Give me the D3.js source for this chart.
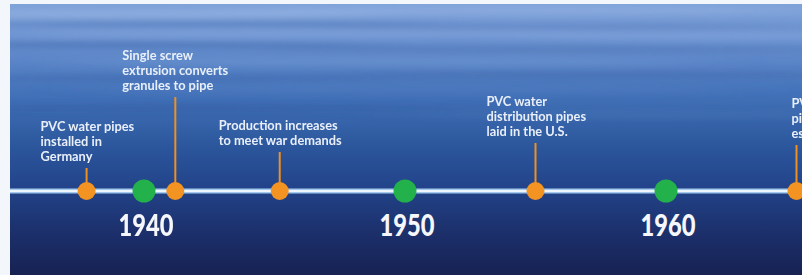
<!DOCTYPE html>
<html>
<head>
<meta charset="utf-8">
<script src="https://cdn.jsdelivr.net/npm/d3@7"></script>
<style>
  html, body { margin: 0; padding: 0; background: #f3f7fb; }
  svg { display: block; }
</style>
</head>
<body>
<div id="chart"></div>
<script>
// Données
const decades = [1940, 1950, 1960];
const eventYears = [1937.8, 1941.2, 1945.2, 1955, 1965];
const eventLabels = [
  ["PVC water pipes", "installed in", "Germany"],
  ["Single screw", "extrusion converts", "granules to pipe"],
  ["Production increases", "to meet war demands"],
  ["PVC water", "distribution pipes", "laid in the U.S."],
  ["PVC pressure", "pipe standards", "established"]
];

// Mise en page
const width = 802;
const height = 275;
const panelLeft = 10;
const panelTop = 4;
const lineY = 191;
const stemLen = [23, 94, 39, 48, 46];
const labelDx = [-46, -53, -61, -49, -5];
const lineHeight = 15;

const x = d3.scaleLinear([1940, 1960], [144, 666]);

const svg = d3.create("svg")
    .attr("viewBox", [0, 0, width, height])
    .attr("width", width)
    .attr("height", height);

const defs = svg.append("defs");

const grad = defs.append("linearGradient")
    .attr("id", "sea")
    .attr("x1", 0).attr("y1", 0).attr("x2", 0).attr("y2", 1);
[[0, "#7fa3d9"], [0.14, "#6890cf"], [0.33, "#4372b9"], [0.52, "#2c579d"],
 [0.68, "#224389"], [0.84, "#1c306c"], [1, "#172252"]]
  .forEach(([o, c]) => grad.append("stop").attr("offset", o).attr("stop-color", c));

defs.append("filter")
    .attr("id", "blur")
    .attr("x", "-50%").attr("y", "-50%").attr("width", "200%").attr("height", "200%")
  .append("feGaussianBlur")
    .attr("stdDeviation", "40 3");

defs.append("clipPath").attr("id", "panel")
  .append("rect")
    .attr("x", panelLeft).attr("y", panelTop)
    .attr("width", width - panelLeft).attr("height", height - panelTop);

// Fond
const bg = svg.append("g").attr("clip-path", "url(#panel)");
bg.append("rect")
    .attr("x", panelLeft).attr("y", panelTop)
    .attr("width", width - panelLeft).attr("height", height - panelTop)
    .attr("fill", "url(#sea)");

// reflets de l'eau
const streaks = [
  [120, 14, 260, 4, "#a3bfe9", 0.45], [520, 11, 300, 4, "#a0bce8", 0.4],
  [200, 24, 240, 3, "#4d74b6", 0.55], [560, 27, 260, 3, "#5679b8", 0.45],
  [300, 34, 300, 4, "#93b2e2", 0.35], [700, 36, 200, 4, "#93b2e2", 0.35],
  [120, 45, 260, 3, "#3f67ab", 0.55], [560, 49, 300, 3, "#4a6fb2", 0.5],
  [380, 62, 320, 4, "#82a4db", 0.3], [160, 78, 240, 3, "#3c64a9", 0.5],
  [620, 75, 280, 3, "#3f66aa", 0.5], [420, 90, 320, 4, "#5a82c2", 0.3],
  [200, 108, 280, 3, "#2f5aa0", 0.4], [650, 115, 250, 3, "#557dbe", 0.3]
];
bg.append("g")
    .attr("filter", "url(#blur)")
  .selectAll("ellipse")
  .data(streaks)
  .join("ellipse")
    .attr("cx", d => d[0]).attr("cy", d => d[1])
    .attr("rx", d => d[2]).attr("ry", d => d[3])
    .attr("fill", d => d[4])
    .attr("opacity", d => d[5]);

// Ligne du temps
const axis = svg.append("g").attr("clip-path", "url(#panel)");
axis.append("line")
    .attr("x1", panelLeft).attr("x2", width)
    .attr("y1", lineY).attr("y2", lineY)
    .attr("stroke", "#a4c9ee").attr("stroke-width", 5);
axis.append("line")
    .attr("x1", panelLeft).attr("x2", width)
    .attr("y1", lineY).attr("y2", lineY)
    .attr("stroke", "#eef6fd").attr("stroke-width", 2);

// Événements
const events = eventYears.map((year, i) => ({year, lines: eventLabels[i], stem: stemLen[i], dx: labelDx[i]}));

const ev = axis.append("g")
  .selectAll("g")
  .data(events)
  .join("g")
    .attr("transform", d => `translate(${x(d.year)},${lineY})`);

ev.append("line")
    .attr("y1", d => -d.stem).attr("y2", 0)
    .attr("stroke", "#f0901e").attr("stroke-width", 2);

ev.append("text")
    .attr("fill", "#e9eff9")
    .attr("font-family", "Lato, 'Open Sans', sans-serif")
    .attr("font-weight", 700)
    .attr("font-size", 12.8)
  .selectAll("tspan")
  .data(d => d.lines.map((t, j) => ({t, j, d})))
  .join("tspan")
    .attr("x", d => d.d.dx)
    .attr("y", d => -d.d.stem - 7 - (d.d.lines.length - 1 - d.j) * lineHeight)
    .text(d => d.t);

ev.append("circle")
    .attr("r", 9)
    .attr("fill", "#f39422");

// Décennies
const dec = axis.append("g")
  .selectAll("g")
  .data(decades)
  .join("g")
    .attr("transform", d => `translate(${x(d)},${lineY})`);

dec.append("circle")
    .attr("r", 11.5)
    .attr("fill", "#23b14c");

dec.append("text")
    .attr("y", 45)
    .attr("x", 2)
    .attr("text-anchor", "middle")
    .attr("fill", "#f5f7fb")
    .attr("font-family", "Lato, 'Open Sans', sans-serif")
    .attr("font-weight", 900)
    .attr("font-size", 31)
    .attr("textLength", 55)
    .attr("lengthAdjust", "spacingAndGlyphs")
    .text(d => d);

document.getElementById("chart").appendChild(svg.node());
</script>
</body>
</html>
